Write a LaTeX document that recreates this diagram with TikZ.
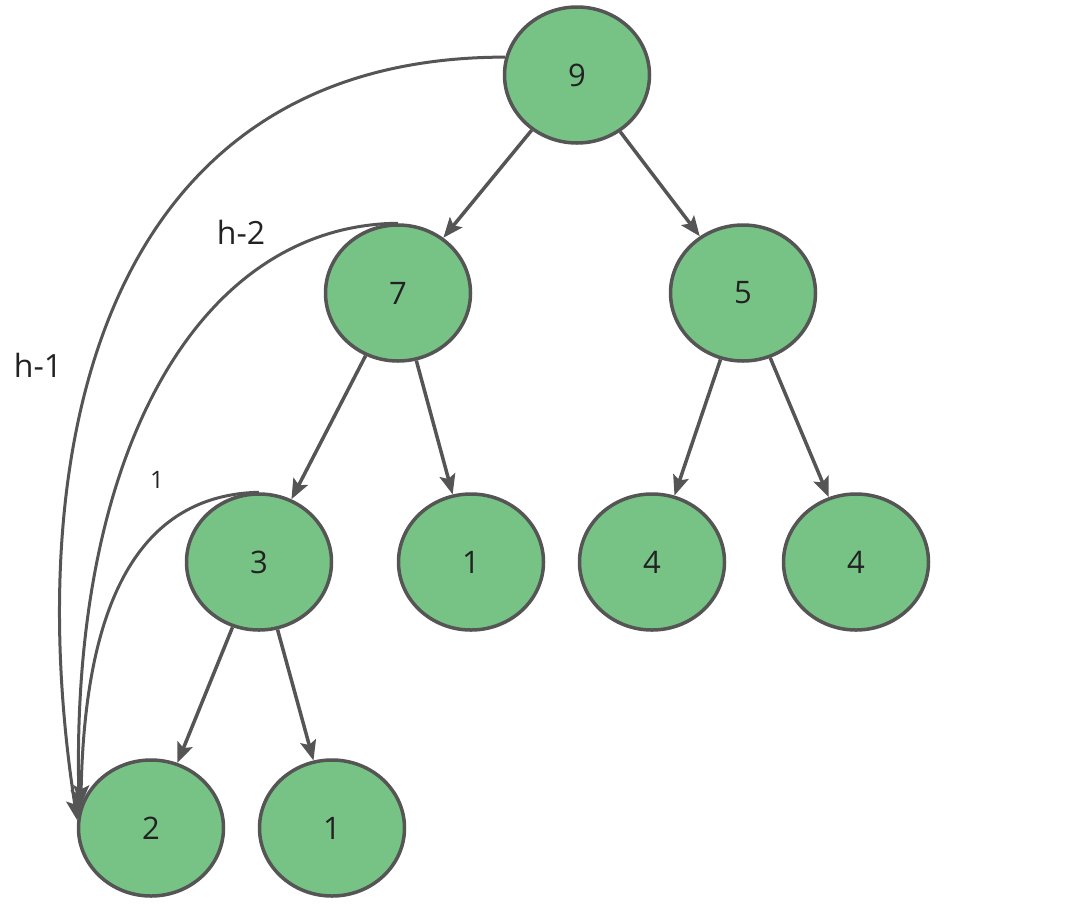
\documentclass[tikz,border=0pt]{standalone}
\usepackage{fontspec}
\setmainfont{Open Sans}
\usetikzlibrary{shapes.geometric,arrows.meta}
\definecolor{nodefill}{HTML}{77C386}
\definecolor{edgegray}{HTML}{555555}
\definecolor{txt}{HTML}{222222}
\begin{document}
\begin{tikzpicture}[x=1pt,y=-1pt,
  heapnode/.style={ellipse,draw=edgegray,fill=nodefill,line width=3.5pt,minimum width=145pt,minimum height=136pt,inner sep=0pt,font=\fontsize{31}{36}\selectfont,text=txt},
  edge/.style={draw=edgegray,line width=3.5pt,-{Stealth[length=20pt,width=16pt,inset=4pt]}},
  curve/.style={draw=edgegray,line width=3pt,-{Stealth[length=20pt,width=16pt,inset=4pt]}},
  lbl/.style={font=\fontsize{32}{36}\selectfont,text=txt},
  smalllbl/.style={font=\fontsize{24}{28}\selectfont,text=txt}]
\useasboundingbox (0,0) rectangle (1084,903);
\node[heapnode] (n9) at (577,75) {9};
\node[heapnode] (n7) at (398,293) {7};
\node[heapnode] (n5) at (743,293) {5};
\node[heapnode] (n3) at (259,562) {3};
\node[heapnode] (n1a) at (471,562) {1};
\node[heapnode] (n4a) at (652,562) {4};
\node[heapnode] (n4b) at (856,562) {4};
\node[heapnode] (n2) at (151,828) {2};
\node[heapnode] (n1b) at (332,828) {1};
\draw[edge] (n9) -- (n7);
\draw[edge] (n9) -- (n5);
\draw[edge] (n7) -- (n3);
\draw[edge] (n7) -- (n1a);
\draw[edge] (n5) -- (n4a);
\draw[edge] (n5) -- (n4b);
\draw[edge] (n3) -- (n2);
\draw[edge] (n3) -- (n1b);
\draw[curve] (n9.166) .. controls (100,57) and (20,450) .. (n2.174);
\draw[curve] (n7.north) .. controls (200,225) and (70,450) .. (n2.166);
\draw[curve] (n3.north) .. controls (140,495) and (85,600) .. (n2.162);
\node[lbl] (l1) at (38,365) {h-1};
\node[lbl] (l2) at (241,232) {h-2};
\node[smalllbl] (l3) at (157,480) {1};
\end{tikzpicture}
\end{document}
